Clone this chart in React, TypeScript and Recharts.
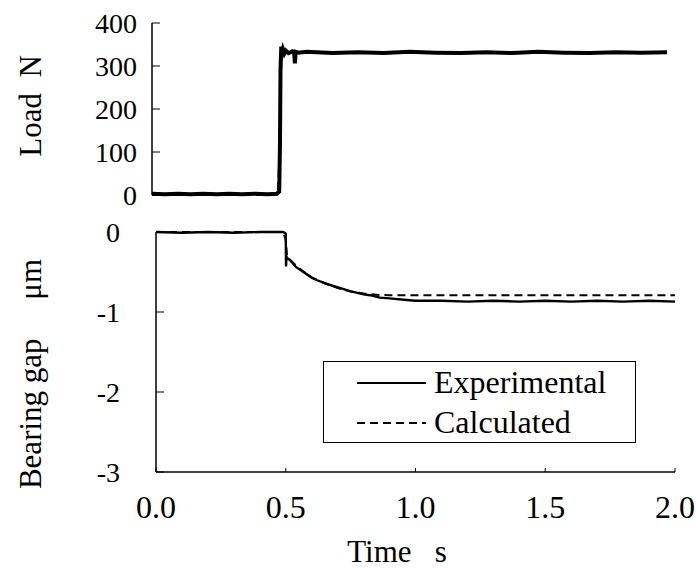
import React from "react";
import { LineChart, Line, XAxis, YAxis, Legend } from "recharts";

const FONT = "'Liberation Serif', 'Times New Roman', Times, serif";

// time axis
const timeTicks = [0, 0.5, 1, 1.5, 2];

// top panel: load, N
const loadTicks = [0, 100, 200, 300, 400];
const loadExpT = [0, 0.05, 0.1, 0.15, 0.2, 0.25, 0.3, 0.35, 0.4, 0.45, 0.485, 0.494, 0.497, 0.499, 0.502, 0.505, 0.509, 0.514, 0.52, 0.53, 0.545, 0.552, 0.555, 0.558, 0.57, 0.6, 0.7, 0.8, 0.9, 1.0, 1.1, 1.2, 1.3, 1.4, 1.5, 1.6, 1.7, 1.8, 1.9, 2.0];
const loadExpV = [3, 2, 3, 2, 3, 2, 3, 2, 3, 2, 3, 8, 120, 290, 345, 326, 338, 329, 336, 330, 334, 331, 306, 333, 331, 333, 330, 332, 330, 333, 331, 330, 332, 330, 333, 331, 330, 332, 331, 332];
const loadCalcT = [0, 0.485, 0.49, 0.495, 0.5, 0.505, 0.515, 2.0];
const loadCalcV = [0, 0, 10, 110, 280, 330, 331, 331];

// bottom panel: bearing gap, um
const gapTicks = [0, -1, -2, -3];
const gapExpT = [0, 0.1, 0.2, 0.3, 0.4, 0.49, 0.5, 0.501, 0.503, 0.507, 0.516, 0.54, 0.568, 0.6, 0.619, 0.65, 0.683, 0.72, 0.748, 0.8, 0.825, 0.863, 0.9, 0.966, 1.0, 1.1, 1.2, 1.3, 1.4, 1.5, 1.6, 1.7, 1.8, 1.9, 2.0];
const gapExpV = [0, -0.01, 0, -0.01, 0, 0, -0.02, -0.43, -0.31, -0.33, -0.35, -0.44, -0.5, -0.57, -0.6, -0.64, -0.675, -0.71, -0.74, -0.78, -0.79, -0.82, -0.83, -0.85, -0.86, -0.86, -0.87, -0.86, -0.87, -0.86, -0.87, -0.86, -0.87, -0.86, -0.87];
const gapCalcT = [0, 0.49, 0.5, 0.505, 0.52, 0.55, 0.6, 0.65, 0.7, 0.75, 0.8, 0.85, 0.9, 1.0, 1.5, 2.0];
const gapCalcV = [0, 0, -0.1, -0.3, -0.36, -0.45, -0.57, -0.64, -0.7, -0.745, -0.77, -0.785, -0.79, -0.79, -0.79, -0.79];

const zip = (t: number[], v: number[]) => t.map((x, i) => ({ t: x, v: v[i] }));

const series = [
  { name: "Experimental", dash: undefined as string | undefined },
  { name: "Calculated", dash: "8 5" },
];

const yTick = { fill: "#000", fontSize: 28, fontFamily: FONT };
const xTick = { fill: "#000", fontSize: 32, fontFamily: FONT };

function LegendBox() {
  return (
    <div style={{ width: 311, height: 80, border: "1px solid #000", background: "#fff", fontFamily: FONT, fontSize: 32, color: "#000" }}>
      {series.map((s) => (
        <div key={s.name} style={{ display: "flex", alignItems: "center", height: 40, lineHeight: "40px" }}>
          <svg width={110} height={40}>
            <line x1={33} x2={102} y1={21} y2={21} stroke="#000" strokeWidth={2} strokeDasharray={s.dash} />
          </svg>
          <span style={{ whiteSpace: "nowrap" }}>{s.name}</span>
        </div>
      ))}
    </div>
  );
}

export default function App() {
  return (
    <div style={{ position: "absolute", left: 0, top: 0, width: 696, height: 568, background: "#fff", fontFamily: FONT }}>
      <div style={{ position: "absolute", left: 0, top: 0 }}>
        <LineChart width={696} height={568} margin={{ top: 23, right: 29, bottom: 373, left: 92 }}>
          <XAxis xAxisId="b" type="number" dataKey="t" domain={[0, 2]} ticks={timeTicks} height={0}
            tickFormatter={() => ""} tickSize={-4} tickLine={{ stroke: "#000" }} axisLine={{ stroke: "#000", strokeWidth: 1.5 }} />
          <XAxis xAxisId="top" orientation="top" type="number" dataKey="t" domain={[0, 2]} height={0}
            tick={false} tickLine={false} axisLine={{ stroke: "#000", strokeWidth: 1.5 }} />
          <YAxis yAxisId="l" type="number" domain={[0, 400]} ticks={loadTicks} width={60}
            tickSize={-8} tickMargin={23} tick={yTick} tickLine={{ stroke: "#000" }} axisLine={{ stroke: "#000", strokeWidth: 1.5 }} />
          <YAxis yAxisId="r" orientation="right" type="number" domain={[0, 400]} width={0}
            tick={false} tickLine={false} axisLine={{ stroke: "#000", strokeWidth: 1.5 }} />
          <Line xAxisId="b" yAxisId="l" data={zip(loadCalcT, loadCalcV)} dataKey="v" type="linear" stroke="#000"
            strokeWidth={2} strokeDasharray="8 5" dot={false} isAnimationActive={false} />
          <Line xAxisId="b" yAxisId="l" data={zip(loadExpT, loadExpV)} dataKey="v" type="linear" stroke="#000"
            strokeWidth={4} dot={false} isAnimationActive={false} />
        </LineChart>
      </div>
      <div style={{ position: "absolute", left: 0, top: 0 }}>
        <LineChart width={696} height={568} margin={{ top: 232, right: 21, bottom: 36, left: 96 }}>
          <XAxis xAxisId="b" type="number" dataKey="t" domain={[0, 2]} ticks={timeTicks} height={60}
            tickFormatter={(v: number) => v.toFixed(1)} tickSize={-4} tickMargin={27} tick={xTick}
            tickLine={{ stroke: "#000" }} axisLine={{ stroke: "#000", strokeWidth: 1.5 }} />
          <XAxis xAxisId="top" orientation="top" type="number" dataKey="t" domain={[0, 2]} height={0}
            tick={false} tickLine={false} axisLine={{ stroke: "#000", strokeWidth: 1.5 }} />
          <YAxis yAxisId="l" type="number" domain={[-3, 0]} ticks={gapTicks} width={60}
            tickSize={-8} tickMargin={44} tick={yTick} tickLine={{ stroke: "#000" }} axisLine={{ stroke: "#000", strokeWidth: 1.5 }} />
          <YAxis yAxisId="r" orientation="right" type="number" domain={[-3, 0]} width={0}
            tick={false} tickLine={false} axisLine={{ stroke: "#000", strokeWidth: 1.5 }} />
          <Line xAxisId="b" yAxisId="l" name="Calculated" data={zip(gapCalcT, gapCalcV)} dataKey="v" type="linear"
            stroke="#000" strokeWidth={2} strokeDasharray="8 5" dot={false} isAnimationActive={false} />
          <Line xAxisId="b" yAxisId="l" name="Experimental" data={zip(gapExpT, gapExpV)} dataKey="v" type="linear"
            stroke="#000" strokeWidth={2.4} dot={false} isAnimationActive={false} />
          <Legend layout="vertical" align="center" verticalAlign="middle" content={() => <LegendBox />}
            wrapperStyle={{ left: 323, top: 361, width: 313, height: 82 }} />
        </LineChart>
      </div>
      <svg width={696} height={568} style={{ position: "absolute", left: 0, top: 0, pointerEvents: "none", fontFamily: FONT }}
        fontSize={31} fill="#000" xmlSpace="preserve">
        <text x={30} y={106} textAnchor="middle" dominantBaseline="central" transform="rotate(-90 30 106)"
          style={{ whiteSpace: "pre" }}>{"Load\u00a0\u00a0N"}</text>
        <text x={30} y={374} textAnchor="middle" dominantBaseline="central" transform="rotate(-90 30 374)"
          style={{ whiteSpace: "pre" }}>{"Bearing gap\u00a0\u00a0\u00a0\u00a0\u00a0\u03bcm"}</text>
        <text x={397} y={551} textAnchor="middle" dominantBaseline="central"
          style={{ whiteSpace: "pre" }}>{"Time\u00a0\u00a0\u00a0s"}</text>
      </svg>
    </div>
  );
}
